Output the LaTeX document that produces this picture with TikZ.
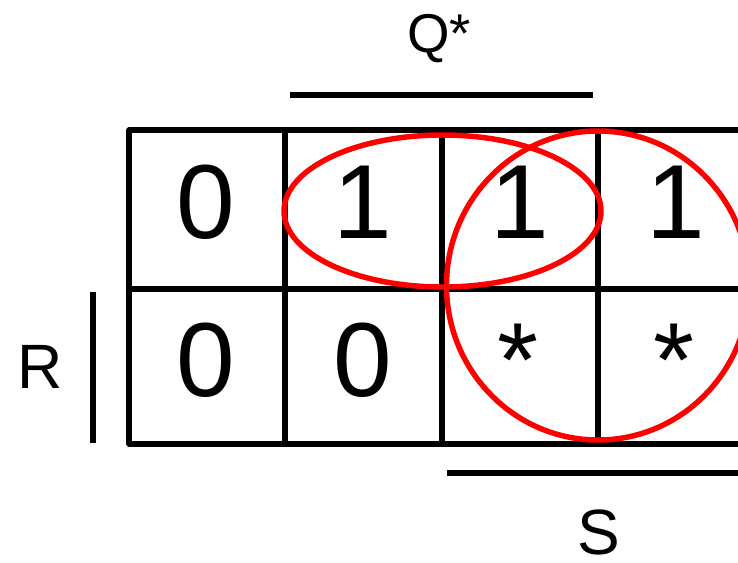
\documentclass[tikz,border=0pt]{standalone}
\usepackage{fontspec}
\setmainfont{Liberation Sans}
\begin{document}
\begin{tikzpicture}[x=0.75pt,y=-0.75pt,
  grid/.style={line width=3.8pt,line cap=round},
  bar/.style={line width=4.8pt},
  loop/.style={draw=red,line width=4.1pt},
  cell/.style={anchor=base,inner sep=0pt,font=\fontsize{79}{79}\selectfont},
  lab/.style={anchor=base,inner sep=0pt,font=\fontsize{47}{47}\selectfont}]
\useasboundingbox (0,0) rectangle (738,562);
\begin{scope}
\clip (0,0) rectangle (738,562);
% grid
\coordinate (t0) at (129,130); \coordinate (t4) at (760,130);
\coordinate (m0) at (129,289); \coordinate (m4) at (760,289);
\coordinate (b0) at (129,444); \coordinate (b4) at (760,444);
\draw[grid] (t0) -- (t4);
\draw[grid] (m0) -- (m4);
\draw[grid] (b0) -- (b4);
\foreach \x/\n in {129/a,285/b,442/c,598/d}{
  \coordinate (v\n1) at (\x,130); \coordinate (v\n2) at (\x,444);
  \draw[grid] (v\n1) -- (v\n2);
}
% entries
\node[cell] (c11) at (206,238) {0};
\node[cell] (c12) at (363,238) {1};
\node[cell] (c13) at (520,238) {1};
\node[cell] (c14) at (676,238) {1};
\node[cell] (c21) at (206,396) {0};
\node[cell] (c22) at (363,396) {0};
\node[cell] (c23) at (518,396) {*};
\node[cell] (c24) at (674,396) {*};
% loops
\coordinate (ec) at (442.5,211);
\coordinate (cc) at (598,285.5);
\draw[loop] (ec) ellipse [x radius=158.5, y radius=76];
\draw[loop] (cc) ellipse [x radius=151.5, y radius=154.5];
% bars
\coordinate (qa) at (290,95); \coordinate (qb) at (593,95);
\draw[bar] (qa) -- (qb);
\coordinate (ra) at (93,292); \coordinate (rb) at (93,443);
\draw[bar] (ra) -- (rb);
\coordinate (sa) at (447,473); \coordinate (sb) at (760,473);
\draw[bar] (sa) -- (sb);
\end{scope}
% labels
\node[lab,font=\fontsize{41}{41}\selectfont] (Q) at (439,52) {Q*};
\node[lab] (R) at (40,388) {R};
\node[lab,font=\fontsize{48}{48}\selectfont] (S) at (599,554) {S};
\end{tikzpicture}
\end{document}
